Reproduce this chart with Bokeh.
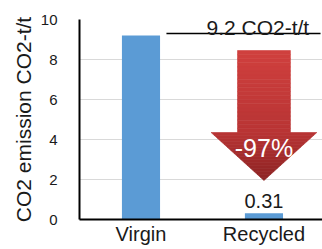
from bokeh.plotting import figure
from bokeh.models import Range1d, FixedTicker
from bokeh.core.properties import value
from bokeh.embed import file_html
from bokeh.resources import INLINE

categories = ["Virgin", "Recycled"]
emissions = [9.2, 0.31]
y_ticks = [0, 2, 4, 6, 8, 10]
reference_label = "9.2 CO2-t/t"
reduction_label = "-97%"
recycled_label = "0.31"
ref_line_level = 9.3

FONT = "Liberation Sans"
TEXT = "#1a1a1a"
BLUE = "#5b9bd5"

xs = list(range(len(categories)))

p = figure(x_range=Range1d(-0.5, 1.476), y_range=Range1d(0, 10),
           frame_width=243, frame_height=200,
           min_border_left=79, min_border_right=0, min_border_top=19, min_border_bottom=30,
           output_backend="svg", toolbar_location=None, outline_line_color=None,
           background_fill_color="white", border_fill_color="white")

p.vbar(x=xs, top=emissions, width=0.31, fill_color=BLUE, line_color=None)

# reference line and label
p.line(x=[0.207, 1.46], y=[ref_line_level, ref_line_level], line_color="black", line_width=1.5)
p.text(x=[0.95], y=[9.62], text=[reference_label], text_align="center", text_baseline="alphabetic",
       text_font=value(FONT), text_font_size="21px", text_color=TEXT)

# arrow with vertical gradient
ax = xs[1]
shaft_hw, head_hw = 0.215, 0.43
top_y, base_y, tip_y = 8.45, 4.35, 1.95
c_top, c_mid, c_bot = (208, 64, 62), (184, 52, 52), (140, 34, 34)

def lerp(a, b, t):
    return tuple(int(round(a[i] + (b[i] - a[i]) * t)) for i in range(3))

def col(y):
    if y >= base_y:
        t = (top_y - y) / (top_y - base_y)
        c = lerp(c_top, c_mid, t)
    else:
        t = (base_y - y) / (base_y - tip_y)
        c = lerp(c_mid, c_bot, t)
    return "#%02x%02x%02x" % c

pxs, pys, cols = [], [], []
n1, n2 = 20, 16
for i in range(n1):
    ya = top_y - (top_y - base_y) * i / n1
    yb = top_y - (top_y - base_y) * (i + 1) / n1
    pxs.append([ax - shaft_hw, ax + shaft_hw, ax + shaft_hw, ax - shaft_hw])
    pys.append([ya, ya, yb, yb])
    cols.append(col((ya + yb) / 2))
for i in range(n2):
    ya = base_y - (base_y - tip_y) * i / n2
    yb = base_y - (base_y - tip_y) * (i + 1) / n2
    wa = head_hw * (ya - tip_y) / (base_y - tip_y)
    wb = head_hw * (yb - tip_y) / (base_y - tip_y)
    pxs.append([ax - wa, ax + wa, ax + wb, ax - wb])
    pys.append([ya, ya, yb, yb])
    cols.append(col((ya + yb) / 2))
p.patches(xs=pxs, ys=pys, fill_color=cols, line_color=cols, line_width=0.6)

p.text(x=[ax], y=[3.6], text=[reduction_label], text_align="center", text_baseline="middle",
       text_font=value(FONT), text_font_size="25px", text_color="white")
p.text(x=[ax], y=[0.95], text=[recycled_label], text_align="center", text_baseline="middle",
       text_font=value(FONT), text_font_size="20px", text_color=TEXT)

# axes
p.xaxis.ticker = FixedTicker(ticks=xs)
p.xaxis.major_label_overrides = {i: c for i, c in enumerate(categories)}
p.xaxis.major_tick_line_color = None
p.xaxis.minor_tick_line_color = None
p.xaxis.axis_line_color = "black"
p.xaxis.axis_line_width = 2
p.xaxis.major_label_text_font = FONT
p.xaxis.major_label_text_font_size = "20px"
p.xaxis.major_label_text_color = TEXT
p.xaxis.major_label_standoff = -3

p.yaxis.ticker = FixedTicker(ticks=y_ticks)
p.yaxis.major_tick_line_color = None
p.yaxis.minor_tick_line_color = None
p.yaxis.axis_line_color = "black"
p.yaxis.axis_line_width = 2
p.yaxis.major_label_text_font = FONT
p.yaxis.major_label_text_font_size = "15px"
p.yaxis.major_label_text_color = TEXT
p.yaxis.major_label_standoff = 16
p.yaxis.axis_label = "CO2 emission CO2-t/t"
p.yaxis.axis_label_text_font = FONT
p.yaxis.axis_label_text_font_size = "21px"
p.yaxis.axis_label_text_font_style = "normal"
p.yaxis.axis_label_text_color = TEXT
p.yaxis.axis_label_standoff = 3

p.xgrid.grid_line_color = None
p.ygrid.ticker = FixedTicker(ticks=[2, 4, 6, 8, 10])
p.ygrid.grid_line_color = "#d9d9d9"
p.ygrid.grid_line_width = 1

open("out.html", "w").write(file_html(p, INLINE))
